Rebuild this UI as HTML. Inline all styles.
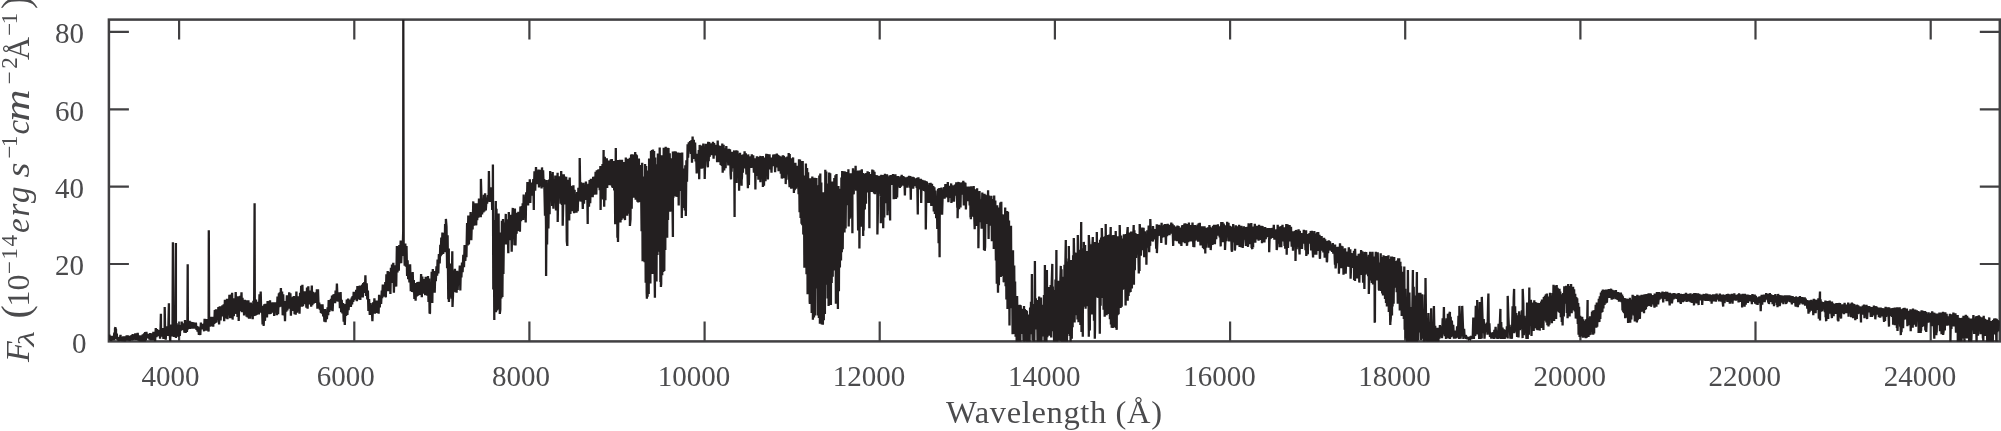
<!DOCTYPE html>
<html><head><meta charset="utf-8"><title>Spectrum</title>
<style>html,body{margin:0;padding:0;background:#fff;}body{width:2001px;height:431px;overflow:hidden;font-family:"Liberation Serif",serif;}svg{display:block;will-change:transform;}</style>
</head><body>
<svg width="2001" height="431" viewBox="0 0 2001 431">
<rect x="0" y="0" width="2001" height="431" fill="#fff"/>
<clipPath id="c"><rect x="108.9" y="19.6" width="1890.8999999999999" height="321.79999999999995"/></clipPath>
<path d="M179.1,341.4v-20.0M179.1,19.6v20.0M354.3,341.4v-20.0M354.3,19.6v20.0M529.4,341.4v-20.0M529.4,19.6v20.0M704.6,341.4v-20.0M704.6,19.6v20.0M879.7,341.4v-20.0M879.7,19.6v20.0M1054.9,341.4v-20.0M1054.9,19.6v20.0M1230.1,341.4v-20.0M1230.1,19.6v20.0M1405.2,341.4v-20.0M1405.2,19.6v20.0M1580.4,341.4v-20.0M1580.4,19.6v20.0M1755.5,341.4v-20.0M1755.5,19.6v20.0M1930.7,341.4v-20.0M1930.7,19.6v20.0M108.9,264.0h20.0M1999.8,264.0h-20.0M108.9,186.6h20.0M1999.8,186.6h-20.0M108.9,109.3h20.0M1999.8,109.3h-20.0M108.9,31.9h20.0M1999.8,31.9h-20.0" stroke="#414042" stroke-width="2.2" fill="none"/>
<rect x="108.9" y="19.6" width="1890.8999999999999" height="321.79999999999995" fill="none" stroke="#414042" stroke-width="2.5"/>
<path clip-path="url(#c)" d="M109.4,334.7L110.1,340.2 110.5,336.8 111.2,341.1 111.9,335.9 112.6,339.7 113.1,337.6 113.8,340.1 114.3,332.5 114.3,336.1 114.9,337.8 115.0,328.5 115.5,327.3 115.5,328.5 116.0,329.5 116.1,339.4 116.8,333.5 116.9,335.6 117.6,339.9 118.0,337.7 118.6,341.3 119.3,337.1 119.8,339.9 120.5,334.9 121.0,341.0 121.8,337.2 122.5,341.2 123.2,336.5 123.7,341.1 124.3,336.5 124.8,342.8 125.4,336.4 126.0,340.0 126.7,335.5 127.4,340.7 127.9,335.5 128.5,339.7 129.1,335.8 129.7,341.2 130.2,336.7 130.7,339.6 131.5,335.3 132.1,340.3 132.7,334.0 133.2,339.9 133.9,335.3 134.6,339.6 135.3,333.4 135.8,339.8 136.5,335.4 137.0,339.3 137.7,332.9 138.2,340.3 138.8,335.5 139.5,341.3 140.1,335.5 140.7,341.8 141.4,335.4 142.1,343.0 142.8,334.3 143.6,342.3 144.1,333.4 144.7,342.7 145.1,332.1 145.9,340.4 146.4,331.9 147.0,338.1 147.7,334.5 148.4,338.4 148.9,333.9 149.5,339.7 150.1,333.1 150.7,340.3 151.2,333.8 151.7,339.8 152.4,333.4 152.9,340.4 153.4,331.7 153.9,337.5 154.5,332.6 155.1,341.4 155.8,328.1 156.5,337.2 157.1,329.1 157.6,336.1 158.3,330.2 158.8,336.2 159.5,330.7 160.1,338.6 160.6,326.5 160.9,313.7 161.1,336.6 161.6,329.2 162.3,334.9 162.9,328.0 163.4,339.0 163.9,329.2 164.6,338.3 164.7,306.9 165.1,329.4 165.7,339.7 166.4,326.2 166.9,333.9 167.4,328.4 167.9,335.8 168.4,325.8 168.9,303.2 169.0,334.9 169.4,327.8 170.2,341.1 170.7,324.5 171.3,336.5 171.8,326.3 172.5,335.9 172.9,242.3 173.2,326.9 173.8,336.9 174.3,326.7 174.8,335.3 175.3,321.8 175.9,243.0 175.9,337.9 176.5,323.2 177.2,332.6 177.8,324.5 178.3,336.8 179.1,325.2 179.8,335.9 180.5,325.2 181.2,330.7 181.7,321.5 182.1,329.8 182.7,324.2 183.3,329.2 183.9,323.4 184.4,332.8 185.0,320.0 185.7,333.0 186.3,322.1 186.9,332.0 187.4,323.4 187.7,264.3 187.9,329.4 188.4,321.8 189.2,327.9 189.6,320.9 190.3,329.0 191.0,321.9 191.7,327.9 192.3,322.0 192.8,328.6 193.5,322.4 194.1,328.1 194.5,323.6 195.2,328.6 195.9,322.6 196.5,329.9 197.0,326.2 197.6,331.6 198.2,326.7 198.9,334.9 199.5,327.8 200.3,335.0 200.9,322.5 201.5,329.5 202.0,324.7 202.7,329.1 203.4,324.0 204.1,331.3 204.6,318.9 205.1,327.8 205.8,322.6 206.5,330.7 206.9,319.1 207.4,328.3 208.0,321.0 208.6,331.6 208.8,230.3 209.1,316.2 209.7,326.8 210.2,317.8 210.8,326.4 211.3,316.8 212.0,325.7 212.7,317.5 213.2,326.7 213.7,316.9 214.3,324.0 214.8,310.0 215.4,323.0 215.9,309.4 216.4,322.5 217.0,312.9 217.7,319.2 218.4,307.1 219.1,324.5 219.8,306.2 220.6,320.5 221.2,306.2 221.9,316.3 222.4,305.2 223.0,316.1 223.7,304.3 224.2,321.3 224.9,299.7 225.5,318.5 226.0,300.1 226.5,312.7 227.0,298.7 227.5,319.2 228.2,300.3 228.9,310.9 229.4,294.9 230.1,318.2 230.9,294.5 231.6,317.9 232.1,292.7 232.6,319.6 233.2,298.2 233.8,316.3 234.4,301.4 235.1,313.8 235.7,292.1 236.4,313.9 237.0,302.5 237.5,316.9 238.2,296.3 238.7,320.9 239.3,299.9 239.8,311.3 240.3,295.9 240.7,311.2 241.5,292.2 242.0,312.1 242.5,297.8 243.0,310.6 243.5,302.9 244.1,315.5 244.8,299.9 245.4,311.3 246.1,302.2 246.6,316.6 247.1,300.3 247.7,317.4 248.4,300.3 249.0,318.6 249.6,304.7 250.1,318.7 250.8,302.5 251.4,314.4 252.1,303.9 252.7,319.2 253.4,300.9 254.1,316.1 254.6,203.2 254.8,300.4 255.4,315.8 256.0,299.5 256.5,314.9 257.0,303.6 257.6,314.2 258.3,301.9 258.9,314.4 259.5,294.4 260.1,310.6 260.7,291.5 261.2,312.5 262.0,305.7 262.6,324.5 263.1,306.6 263.7,325.9 264.3,304.2 265.0,320.9 265.4,303.8 265.9,317.2 266.4,303.9 267.0,317.5 267.6,301.1 268.3,313.1 268.8,302.6 269.5,314.2 270.0,300.4 270.6,313.8 271.3,305.5 272.0,312.3 272.5,302.3 273.0,312.7 273.5,304.0 274.2,316.0 274.8,302.4 275.5,312.3 276.3,302.3 276.8,315.1 277.5,296.5 278.1,314.2 278.9,293.2 279.3,307.2 279.8,292.3 280.3,303.8 280.9,288.0 281.4,306.7 282.1,291.6 282.7,315.1 283.2,294.2 283.8,315.4 284.4,304.3 285.0,321.2 285.6,301.0 286.3,311.6 286.9,295.4 287.4,310.4 288.0,296.9 288.5,308.6 289.2,292.4 289.8,308.6 290.4,293.2 290.9,315.6 291.6,298.0 292.2,309.7 292.9,296.7 293.4,310.9 293.9,296.0 294.6,314.3 295.2,297.9 295.7,314.8 296.4,291.5 297.0,312.8 297.6,296.9 298.2,305.6 298.8,296.3 299.5,313.7 300.1,292.9 300.6,305.7 301.2,285.8 301.9,306.7 302.4,284.7 303.0,306.1 303.6,293.3 304.1,304.2 304.6,291.3 305.1,301.7 305.7,291.7 306.4,307.6 307.0,287.6 307.6,308.7 308.3,286.2 308.8,304.5 309.4,290.5 310.0,303.2 310.6,292.0 311.2,306.7 311.8,285.6 312.3,305.2 313.0,291.7 313.6,303.6 314.1,293.3 314.9,303.0 315.6,292.3 316.3,302.3 316.9,289.4 317.4,308.6 318.0,289.3 318.6,306.7 319.2,302.7 319.9,309.6 320.4,305.2 320.9,312.9 321.4,304.3 321.9,313.7 322.5,304.3 323.2,316.5 323.8,309.0 324.4,321.6 325.0,309.1 325.6,322.3 326.3,311.2 326.9,319.2 327.6,307.4 328.2,315.3 328.7,300.1 329.3,311.9 329.8,301.8 330.3,310.4 330.9,298.9 331.5,306.6 332.0,295.5 332.6,311.3 333.3,294.6 333.8,301.9 334.4,294.0 335.1,303.2 335.6,290.5 336.3,301.4 336.9,283.6 337.5,298.6 337.9,292.3 338.6,301.7 339.4,292.6 339.9,308.2 340.6,292.1 341.2,312.1 341.7,299.9 342.4,313.5 343.1,303.1 343.7,321.7 344.3,314.2 344.8,324.9 345.5,304.0 346.1,315.9 346.8,299.5 347.4,315.0 348.1,298.6 348.6,310.3 349.2,300.1 349.9,305.6 350.5,299.7 350.9,306.9 351.7,297.7 352.1,304.4 352.6,296.1 353.2,302.0 353.7,291.9 354.2,300.2 354.9,292.9 355.6,299.0 356.2,289.7 356.9,301.2 357.4,286.1 358.0,299.5 358.5,286.6 359.2,297.7 359.8,285.5 360.3,300.0 360.9,287.2 361.5,294.6 362.2,284.7 362.8,297.4 363.2,283.0 363.8,292.9 364.3,282.1 364.9,291.7 365.4,275.3 366.0,296.0 366.7,283.2 367.3,299.5 367.9,290.6 368.4,311.0 369.1,299.0 369.8,314.9 370.5,303.0 371.2,311.8 371.7,305.5 372.4,321.1 373.1,302.2 373.8,313.2 374.4,298.4 375.0,313.6 375.6,306.4 376.3,312.6 376.7,300.5 377.4,313.0 377.9,302.3 378.6,313.8 379.1,294.9 379.8,307.4 380.3,296.2 381.1,304.0 381.8,290.5 382.2,298.3 382.8,284.6 383.4,296.8 384.1,284.6 384.8,294.7 385.3,282.0 385.8,297.4 386.4,274.2 387.0,290.2 387.7,271.0 388.3,291.2 388.9,271.8 389.4,287.5 389.9,276.7 390.4,293.9 390.9,267.8 391.4,282.9 392.0,264.6 392.6,281.8 393.3,262.7 393.9,292.7 394.5,267.4 395.1,283.0 395.6,265.3 396.2,286.6 396.9,246.0 397.5,272.5 398.1,257.7 398.8,270.8 399.3,245.0 399.9,263.4 400.7,240.5 401.2,263.2 401.9,245.4 402.6,254.2 403.2,230.7 403.3,19.6 403.7,256.0 404.2,245.4 404.7,265.7 405.3,243.5 405.9,266.8 406.5,245.9 407.1,276.0 407.6,260.2 408.2,279.1 408.9,268.4 409.4,282.4 410.1,264.2 410.8,291.2 411.5,275.2 412.1,292.0 412.7,272.0 413.3,292.2 413.8,280.1 414.4,299.0 415.1,283.0 415.6,300.7 416.2,284.3 416.8,296.5 417.4,282.0 418.1,295.8 418.7,281.7 419.3,293.3 419.9,285.4 420.4,295.0 421.1,274.1 421.8,297.1 422.3,276.6 422.9,292.4 423.5,279.2 424.1,293.8 424.7,279.1 425.2,295.3 425.7,276.9 426.2,294.7 426.8,284.2 427.3,295.7 428.0,276.1 428.5,302.0 429.1,278.6 429.6,313.6 430.0,312.9 430.3,282.3 431.0,302.6 431.7,271.7 432.3,302.9 432.8,269.1 433.4,291.2 434.2,271.0 434.7,292.7 435.3,271.3 435.8,281.1 436.5,266.4 437.1,275.6 437.6,259.6 438.3,273.5 438.9,254.0 439.7,263.5 440.3,244.9 440.7,256.1 441.3,237.6 441.8,254.7 442.4,232.5 443.2,254.0 443.9,233.1 444.6,252.3 445.1,223.9 445.3,229.1 445.9,248.9 445.9,218.9 446.5,226.6 447.1,268.2 447.6,235.3 448.3,299.2 448.8,248.6 448.9,301.9 449.3,295.1 449.9,265.7 450.5,296.9 451.0,263.6 451.6,298.7 452.3,251.3 452.5,306.9 453.0,295.0 453.6,270.3 454.4,291.7 454.9,268.8 455.5,292.1 456.0,278.0 456.6,292.8 457.1,270.8 457.7,290.0 458.3,271.5 459.0,284.1 459.8,265.5 460.3,290.5 460.9,265.9 461.4,277.4 462.0,262.5 462.6,272.2 463.3,254.9 464.0,267.2 464.6,245.0 465.3,260.9 465.8,250.3 466.4,257.3 467.1,222.9 467.7,245.6 468.3,215.6 468.9,244.5 469.5,220.6 470.1,238.9 470.6,212.1 471.3,240.1 472.0,216.2 472.6,229.4 473.3,201.4 473.8,225.8 474.5,210.9 475.0,224.8 475.6,203.3 476.2,225.4 476.8,203.2 477.2,220.3 477.9,206.4 478.4,217.6 479.0,198.5 479.6,215.4 480.3,204.3 480.8,217.2 480.9,178.9 481.6,203.0 482.1,214.4 482.7,200.9 483.4,212.4 483.9,194.8 484.4,211.5 485.1,193.4 485.8,210.4 486.6,197.8 487.1,203.7 487.9,195.2 488.6,201.5 488.9,171.0 489.2,188.6 489.9,202.0 490.5,187.2 491.1,199.7 491.8,192.5 492.2,209.9 492.8,201.7 492.9,164.4 493.3,289.5 493.8,220.1 494.3,319.9 494.3,289.1 494.8,221.2 495.2,274.5 495.6,214.0 495.8,200.9 496.0,312.2 496.5,208.7 497.0,310.5 497.6,230.1 498.1,298.1 498.6,213.6 499.2,309.5 499.6,243.1 499.8,313.9 500.3,309.6 500.8,232.5 501.3,298.4 501.9,220.8 502.4,297.0 503.0,219.0 503.4,274.0 504.0,222.6 504.7,238.0 505.4,225.7 505.8,213.9 505.9,244.6 506.4,219.3 507.1,244.0 507.7,226.5 508.3,253.3 508.8,212.1 509.4,239.9 509.9,223.2 510.4,240.3 511.1,214.8 511.7,251.7 512.3,218.2 512.8,207.9 513.0,239.3 513.7,209.4 514.4,245.2 514.9,208.6 515.5,245.4 516.1,219.1 516.6,233.6 517.1,212.8 517.8,230.9 518.4,211.7 518.9,225.4 519.4,213.0 519.9,231.7 520.4,206.5 521.1,221.3 521.8,206.0 522.3,219.7 522.7,203.2 523.2,219.9 523.7,194.6 524.5,214.8 525.1,198.9 525.7,222.5 526.2,192.2 526.9,203.6 527.4,182.1 528.1,205.5 528.6,190.4 529.3,201.9 529.8,179.3 530.3,202.9 530.9,183.7 531.5,195.8 532.1,182.6 532.7,192.4 533.3,179.0 533.8,209.9 533.9,190.8 534.5,171.4 535.2,190.6 536.0,167.0 536.5,184.2 537.1,171.7 537.8,184.2 538.5,169.5 539.0,187.4 539.7,169.9 540.3,186.3 540.9,170.0 541.6,188.5 542.0,167.4 542.5,186.9 543.1,170.4 543.6,185.2 544.2,179.0 545.0,215.8 545.4,180.2 546.0,225.4 546.1,275.9 546.7,180.0 547.1,244.4 547.7,183.8 548.4,228.5 549.1,179.5 549.6,214.3 550.2,170.9 550.8,198.9 551.5,174.2 552.2,205.9 552.7,172.1 553.4,208.7 554.1,179.1 554.8,200.8 555.3,175.5 556.0,210.4 556.5,175.6 557.0,205.6 557.6,172.8 557.7,221.9 558.2,194.4 558.8,179.9 559.4,196.5 559.9,176.2 560.6,203.8 561.2,171.0 561.9,205.1 562.5,174.2 562.7,225.8 563.2,203.5 563.8,174.2 564.3,204.5 564.8,176.5 565.5,200.6 566.2,176.7 566.8,241.1 567.3,246.0 567.5,179.8 568.1,217.0 568.6,186.8 569.2,220.4 569.7,177.4 570.4,213.9 571.0,185.9 571.5,208.8 572.2,191.5 572.7,211.2 573.4,185.2 574.1,213.3 574.6,189.9 575.2,212.8 575.9,195.3 576.5,212.7 577.1,192.0 577.7,211.2 578.4,187.8 579.0,196.3 579.7,186.0 579.7,158.0 580.4,201.6 581.0,182.4 581.5,196.9 582.1,184.0 582.8,209.0 583.4,182.7 584.0,203.7 584.6,186.7 585.3,199.9 585.9,181.6 586.7,197.4 587.2,184.6 587.7,223.9 587.8,197.4 588.5,183.9 589.0,206.7 589.6,180.1 590.2,203.1 590.9,178.7 591.6,194.7 592.0,180.4 592.7,197.3 593.2,176.8 593.9,194.7 594.5,176.6 595.0,190.5 595.6,171.9 596.3,194.6 596.8,170.2 597.6,187.7 598.1,169.5 598.7,187.2 599.2,169.3 599.7,190.2 600.4,166.0 600.6,209.9 600.8,194.8 601.4,171.3 601.9,194.2 602.5,164.0 603.1,199.4 603.6,150.0 603.6,155.7 604.2,206.8 604.8,156.8 605.4,200.3 605.8,164.1 606.2,184.7 606.8,158.2 607.2,187.9 607.6,161.1 608.2,176.5 608.8,160.6 609.3,185.3 609.9,161.4 610.3,181.2 610.8,159.3 611.4,185.5 611.9,159.0 612.3,187.6 612.8,161.1 613.2,187.9 613.6,161.0 614.2,190.4 614.7,162.3 615.2,224.2 615.8,148.0 616.3,216.8 616.9,167.4 617.4,237.8 617.8,160.1 618.0,241.9 618.4,208.3 618.9,164.6 619.5,220.5 620.0,159.7 620.5,222.5 621.0,166.3 621.4,219.9 622.0,159.8 622.5,218.6 623.0,165.3 623.5,211.2 624.1,162.0 624.6,216.4 625.0,220.0 625.0,169.8 625.4,215.0 625.8,157.4 626.2,214.8 626.8,159.2 627.2,215.8 627.7,158.7 628.3,213.8 628.8,167.7 629.3,208.5 629.9,157.8 629.9,226.0 630.5,219.2 631.1,154.6 631.7,208.7 632.1,154.3 632.6,188.9 633.1,154.4 633.6,197.7 634.2,159.1 634.6,179.3 635.2,152.0 635.7,199.7 636.1,154.2 636.5,190.6 636.9,155.3 637.4,201.7 637.8,165.1 638.3,202.4 638.9,158.5 639.5,202.0 640.1,164.9 640.5,194.4 641.0,174.2 641.6,231.2 642.2,162.7 642.6,261.2 643.0,189.0 643.5,240.0 644.0,176.4 644.6,262.3 645.1,164.0 645.7,282.7 646.1,166.1 646.7,292.8 646.9,298.8 647.2,170.5 647.6,296.7 648.2,176.6 648.7,294.0 649.1,158.6 649.6,243.4 650.0,163.1 650.4,283.4 651.0,151.0 651.4,274.0 651.9,150.1 652.4,274.0 653.0,149.4 653.5,273.6 654.1,151.0 654.6,272.1 654.9,297.8 655.2,157.6 655.6,272.2 656.2,166.3 656.5,281.6 656.9,164.3 657.5,255.0 657.9,153.4 658.4,251.8 659.0,164.3 659.4,249.7 659.7,147.5 660.4,282.1 660.8,171.4 660.9,286.9 661.2,283.7 661.7,155.2 662.2,275.2 662.6,179.4 663.2,272.0 663.7,147.7 664.2,266.1 664.3,270.9 664.7,171.5 665.3,249.9 665.7,146.7 666.1,223.5 666.7,150.4 667.2,237.7 667.6,147.8 668.0,220.0 668.5,148.1 669.0,206.8 669.7,153.2 670.2,211.8 670.6,158.2 671.2,211.1 671.8,163.1 672.3,188.8 672.9,237.0 672.9,151.6 673.4,197.8 673.8,152.4 674.2,186.8 674.7,151.2 675.2,196.2 675.8,151.6 676.4,196.8 677.0,162.3 677.6,197.0 678.1,152.5 678.7,205.5 679.1,152.7 679.7,186.8 680.2,153.8 680.8,191.0 681.3,152.7 681.7,204.8 681.8,218.0 682.2,152.5 682.7,198.7 683.3,169.2 683.8,207.9 684.2,168.6 684.8,210.4 685.3,165.3 685.8,216.0 685.9,210.9 686.4,160.2 687.0,181.8 687.6,144.3 688.1,157.7 688.8,142.4 689.5,151.2 690.1,141.1 690.9,153.9 691.5,140.0 692.0,162.6 692.6,136.6 693.3,158.9 693.8,139.7 694.4,152.2 695.1,142.5 695.6,161.4 696.2,155.7 696.7,173.4 697.4,153.9 698.1,171.0 698.8,150.0 699.2,179.3 699.7,144.9 700.4,166.5 701.1,148.3 701.6,168.7 702.1,145.5 702.7,167.3 703.3,143.5 703.9,168.2 704.4,148.3 704.7,179.0 705.1,162.6 705.8,143.8 706.3,159.8 706.8,145.2 707.5,161.4 707.6,165.5 707.9,167.2 708.2,141.8 708.7,161.1 709.2,142.0 709.7,156.9 710.3,143.8 710.9,155.0 711.6,143.2 712.3,155.1 713.0,141.8 713.6,158.6 714.1,143.0 714.7,155.4 715.2,144.9 715.8,154.3 716.6,145.2 717.1,162.3 717.7,140.6 718.2,162.1 718.9,145.5 719.5,162.0 720.1,146.4 720.6,164.9 721.3,145.9 721.8,166.0 722.3,143.6 722.7,172.7 722.9,159.5 723.6,144.9 724.2,170.5 725.0,148.3 725.6,168.2 726.3,146.0 726.9,161.9 727.6,149.7 728.3,165.5 728.8,148.8 729.3,162.3 730.0,149.3 730.6,173.6 731.0,179.4 731.1,152.0 731.6,171.8 732.1,151.7 732.6,163.3 733.2,152.2 733.7,168.1 734.2,150.4 734.6,217.0 734.7,163.8 735.3,151.5 735.6,180.7 735.7,164.2 736.4,150.2 736.5,174.8 736.6,182.9 736.9,164.4 737.5,150.7 737.5,175.7 738.2,165.1 738.6,176.1 738.8,153.7 739.1,190.7 739.5,168.1 740.0,152.8 740.5,166.7 741.1,155.4 741.6,185.7 741.6,165.8 741.8,179.4 742.0,176.2 742.3,154.7 742.9,172.8 743.5,154.3 744.0,168.4 744.6,151.3 745.2,165.8 745.8,153.3 746.4,174.4 746.9,156.6 747.5,171.0 747.9,188.2 748.2,154.4 748.9,175.8 748.9,184.9 749.4,156.7 750.0,167.3 750.7,156.2 751.3,167.9 751.8,154.4 752.5,167.1 753.2,155.4 753.9,172.7 754.6,158.4 755.2,171.6 755.4,189.4 755.7,158.3 756.4,169.8 756.9,156.2 757.6,175.9 758.1,157.3 758.4,179.7 758.6,169.4 759.2,156.8 759.7,170.6 760.4,155.9 760.4,182.3 760.9,172.1 761.5,157.0 762.2,176.5 762.8,156.0 762.9,186.9 763.3,167.8 763.8,157.4 764.0,185.7 764.3,170.1 764.8,157.7 765.5,181.2 765.6,169.5 766.3,153.8 766.8,166.3 767.0,176.0 767.3,154.0 767.8,172.3 767.9,179.4 768.5,154.2 769.1,169.5 769.5,154.4 770.2,167.3 770.8,157.9 771.5,172.6 772.0,157.6 772.7,166.2 773.3,154.6 773.9,165.2 774.6,154.4 775.1,172.2 775.8,154.8 776.2,165.9 776.8,153.5 777.4,167.5 777.9,154.8 778.6,171.1 779.1,155.5 779.8,165.4 780.3,156.3 780.8,173.8 781.5,157.3 781.8,178.5 782.1,176.8 782.8,155.3 783.4,169.2 783.6,178.2 783.9,155.9 784.6,166.7 785.1,157.3 785.7,170.5 785.7,184.1 786.4,157.2 786.5,179.7 787.0,168.4 787.4,156.6 788.0,174.2 788.7,153.0 789.2,179.7 789.6,187.2 789.7,154.1 790.2,176.2 790.4,184.7 790.7,159.5 791.2,188.7 791.4,174.9 792.1,158.3 792.6,176.0 793.1,157.4 793.2,188.4 793.8,176.8 793.9,192.9 794.3,164.8 794.7,190.3 795.4,162.9 796.0,188.8 796.7,165.9 797.3,185.8 797.9,169.1 798.6,194.2 799.0,159.3 799.6,212.2 800.0,159.4 800.6,217.9 801.0,172.6 801.5,223.8 801.9,161.0 802.3,225.3 802.7,161.0 803.3,234.5 803.9,175.5 804.4,267.7 804.9,193.0 805.3,237.3 805.9,163.4 806.5,274.2 807.1,168.1 807.6,294.2 808.1,172.2 808.6,289.8 809.2,182.1 809.7,301.7 809.9,303.9 810.3,178.2 810.7,302.5 811.2,207.3 811.7,312.9 812.3,176.5 812.9,298.5 812.9,319.8 813.5,179.9 814.0,317.5 814.6,177.7 815.1,315.5 815.6,190.6 816.0,288.5 816.4,178.1 816.8,258.8 817.3,200.4 817.9,315.4 818.5,185.3 818.9,318.0 819.3,175.5 819.9,285.6 819.9,323.8 820.3,173.5 820.8,318.4 821.3,182.5 821.8,324.4 822.3,195.7 822.8,306.7 822.9,324.8 823.3,192.3 823.8,320.2 824.3,198.7 824.9,314.0 825.3,169.7 825.8,270.7 826.3,171.5 826.9,284.8 827.2,183.6 827.6,298.6 828.2,187.5 828.6,305.9 829.2,172.4 829.8,304.1 830.2,173.3 830.8,259.1 830.9,304.9 831.2,209.0 831.7,282.9 832.2,181.5 832.7,276.7 833.2,211.2 833.8,251.6 834.3,177.9 834.9,270.6 835.4,175.2 835.9,303.8 836.5,173.9 837.0,291.3 837.5,192.7 837.9,308.9 837.9,265.6 838.4,186.1 838.9,291.3 839.3,201.0 839.9,267.4 840.4,188.8 841.0,260.6 841.4,177.5 841.8,252.2 842.2,171.0 842.7,249.3 843.3,175.2 843.7,231.6 844.1,171.3 844.5,232.4 845.0,171.4 845.6,228.4 846.1,176.5 846.5,202.3 847.0,172.1 847.6,204.9 848.3,203.7 848.4,169.2 848.7,226.6 849.0,197.4 849.6,174.5 849.7,218.7 850.1,190.1 850.7,173.3 851.4,198.6 851.5,202.1 851.8,217.6 852.0,173.9 852.4,233.3 852.4,190.4 853.0,168.4 853.7,194.4 854.3,170.6 855.0,188.8 855.6,165.8 856.2,190.6 856.9,171.3 857.6,187.5 858.1,230.6 858.2,170.4 858.7,198.9 858.8,213.9 859.2,170.4 859.4,248.6 859.9,194.8 860.5,170.4 861.1,226.7 861.1,191.9 861.8,169.2 862.3,201.0 862.3,191.3 862.8,172.9 863.2,236.0 863.3,188.0 863.6,230.5 864.0,175.4 864.3,209.8 864.5,187.4 864.8,209.3 865.1,173.6 865.7,195.9 866.0,203.8 866.3,173.0 867.0,192.4 867.6,171.4 868.3,189.8 869.0,171.9 869.4,228.3 869.5,191.4 870.0,174.5 870.7,188.0 871.3,174.1 871.8,192.0 872.3,169.6 872.7,191.0 873.4,170.4 874.0,193.4 874.5,171.9 875.0,194.2 875.5,176.8 876.1,187.1 876.9,175.2 877.4,188.2 877.4,234.5 878.0,205.2 878.1,176.9 878.6,193.7 879.1,175.9 879.7,187.9 880.2,175.8 880.5,196.6 880.7,191.3 880.8,223.3 881.3,174.8 881.4,219.9 882.0,188.4 882.6,175.1 883.2,191.7 883.2,228.3 883.9,176.2 884.3,217.5 884.4,186.1 884.9,173.7 885.3,185.5 885.9,177.3 886.0,203.2 886.5,192.0 887.0,174.2 887.5,215.3 887.7,189.4 887.9,199.5 888.2,210.7 888.3,177.2 889.0,186.3 889.5,175.5 890.1,220.4 890.1,186.4 890.7,175.0 891.3,183.6 891.8,175.7 892.5,184.9 893.0,174.1 893.6,184.1 893.7,199.3 894.1,176.9 894.7,190.3 895.4,174.2 896.0,199.0 896.2,187.0 896.8,177.4 897.1,197.6 897.4,183.5 897.8,176.1 898.5,186.6 899.2,177.4 899.9,187.9 900.4,176.4 901.0,186.6 901.7,174.9 902.2,184.0 902.9,176.0 903.5,185.6 904.0,176.5 904.6,185.9 904.9,195.4 905.3,177.4 905.9,187.0 906.5,177.5 907.1,187.8 907.7,176.9 908.3,183.0 909.1,175.9 909.7,187.6 910.3,175.9 910.8,199.8 911.0,183.2 911.6,178.1 912.2,185.6 912.7,176.9 913.2,188.8 913.8,177.3 914.2,184.8 914.8,179.0 915.5,186.2 916.2,178.3 916.7,188.0 917.2,177.7 917.8,214.5 917.9,185.1 918.4,177.3 919.0,189.4 919.6,179.0 920.3,187.2 920.8,178.7 921.2,203.0 921.5,186.6 922.2,179.9 922.7,190.1 923.4,180.2 924.0,190.9 924.7,180.5 925.1,191.4 925.6,181.0 925.8,229.5 926.3,192.4 926.9,181.5 927.6,195.4 928.2,202.9 928.2,184.9 928.9,201.2 929.5,183.0 930.0,202.9 930.6,182.7 931.3,206.0 932.0,183.7 932.7,205.8 933.3,185.9 933.8,211.6 934.4,187.2 934.9,214.0 935.5,190.5 936.2,218.2 936.9,197.9 937.3,228.9 938.1,188.8 938.6,243.3 938.7,230.5 939.3,188.0 939.6,257.3 939.7,217.5 940.3,191.8 941.0,213.0 941.5,187.5 942.1,214.8 942.8,189.5 943.4,197.2 944.1,187.2 944.6,198.8 945.4,184.0 946.1,197.4 946.8,186.2 947.3,195.8 947.8,182.0 948.4,202.2 949.2,185.9 949.7,197.9 950.2,186.4 950.7,197.8 951.2,183.4 951.4,202.9 951.7,201.0 952.4,185.2 953.0,198.4 953.6,185.5 953.9,201.7 954.3,194.0 955.0,184.5 955.7,195.6 956.3,182.2 956.9,195.8 957.3,207.6 957.5,184.2 957.6,218.2 958.2,193.4 958.6,181.9 959.1,209.3 959.2,191.7 959.8,183.6 960.2,191.0 960.5,207.5 960.9,182.4 961.4,191.9 961.9,183.9 962.6,194.6 963.3,180.7 963.8,205.6 963.9,197.4 964.4,182.2 964.9,198.9 965.4,182.8 965.9,209.4 966.1,201.1 966.6,186.6 967.4,197.9 967.9,187.0 968.4,201.2 969.0,186.6 969.7,205.5 970.3,190.8 970.5,217.6 970.9,207.3 970.9,219.2 971.3,186.2 972.0,209.5 972.5,189.1 973.1,216.6 973.7,185.9 974.3,218.1 974.7,229.3 974.8,195.7 975.4,215.0 975.9,189.3 976.5,226.1 977.1,188.3 977.6,223.6 978.3,197.4 978.4,248.3 978.8,214.9 979.5,191.1 980.2,222.1 980.9,199.4 981.6,228.8 982.3,192.6 983.0,227.9 983.5,200.5 983.9,229.7 984.0,249.9 984.5,193.7 984.7,250.8 985.1,246.9 985.6,194.8 986.1,223.9 986.8,195.7 987.4,223.8 988.1,190.3 988.6,239.1 989.0,195.4 989.6,223.7 990.3,198.6 990.9,225.8 991.4,195.7 991.9,241.2 992.3,204.9 992.9,233.9 993.4,199.0 993.8,249.0 994.2,195.5 994.7,246.9 995.3,200.4 995.9,260.5 996.3,212.7 996.8,283.8 997.2,205.2 997.8,274.7 998.0,292.8 998.4,225.0 998.9,285.2 999.5,207.5 999.8,276.4 1000.3,202.5 1000.8,276.9 1001.3,201.8 1001.8,268.1 1002.3,214.2 1002.7,276.0 1003.2,214.5 1003.7,281.5 1004.0,281.9 1004.2,225.0 1004.7,269.9 1005.2,207.6 1005.6,286.2 1006.0,234.4 1006.4,299.4 1007.0,210.9 1007.5,308.9 1008.0,211.8 1008.5,301.2 1009.0,220.4 1009.5,325.5 1010.0,236.4 1010.4,308.3 1011.0,225.8 1011.4,296.5 1012.0,254.3 1012.6,334.2 1013.0,250.2 1013.6,334.0 1014.2,265.5 1014.7,323.5 1015.1,281.6 1015.6,336.8 1016.2,297.1 1016.7,344.9 1017.1,296.1 1017.7,333.4 1018.1,305.1 1018.6,344.7 1019.0,308.9 1019.4,342.3 1019.8,304.7 1020.3,346.4 1020.7,305.3 1021.3,333.9 1021.8,308.7 1022.4,331.9 1023.0,314.2 1023.5,340.9 1024.0,306.1 1024.4,344.6 1024.8,309.0 1025.4,339.2 1025.9,310.1 1026.3,341.1 1026.8,310.7 1027.3,346.3 1027.8,314.5 1028.4,343.2 1028.9,318.3 1029.5,346.3 1030.1,307.5 1030.5,333.7 1031.0,301.8 1031.6,334.3 1031.9,273.9 1032.0,306.7 1032.6,340.1 1033.0,304.0 1033.5,345.5 1033.9,305.2 1034.3,346.4 1034.7,299.4 1034.9,260.9 1035.3,329.6 1035.8,298.3 1036.4,327.8 1037.0,301.0 1037.6,344.2 1038.1,299.9 1038.5,344.8 1039.1,296.5 1039.6,338.0 1040.1,298.3 1040.5,343.3 1041.0,297.4 1041.4,346.0 1042.0,304.8 1042.5,336.4 1043.0,308.2 1043.5,333.2 1044.0,295.1 1044.6,346.1 1044.9,264.9 1045.0,295.7 1045.5,342.3 1045.9,300.9 1046.4,346.4 1046.8,298.1 1046.9,269.9 1047.3,337.3 1047.8,299.2 1048.2,332.1 1048.8,287.1 1049.2,335.8 1049.7,297.8 1050.1,328.6 1050.7,285.1 1051.2,337.6 1051.7,283.2 1052.3,263.9 1052.3,328.3 1052.8,286.4 1053.3,331.2 1053.7,290.0 1054.1,346.3 1054.5,294.8 1054.9,338.7 1055.5,279.6 1055.9,346.4 1056.4,249.9 1056.5,276.6 1057.1,345.9 1057.7,283.8 1058.2,339.7 1058.6,280.7 1059.0,340.8 1059.4,285.6 1059.8,336.1 1060.4,279.3 1060.8,265.9 1061.0,341.1 1061.5,269.3 1062.0,342.7 1062.5,277.6 1063.0,346.4 1063.6,276.7 1064.0,329.6 1064.5,264.7 1065.0,345.4 1065.4,263.0 1065.8,240.0 1065.9,345.1 1066.4,261.5 1066.9,342.8 1067.4,283.7 1067.8,331.3 1068.4,258.4 1068.8,334.1 1068.8,245.9 1069.3,272.9 1069.7,336.0 1070.2,272.2 1070.6,346.4 1071.0,260.0 1071.5,312.0 1071.8,338.8 1072.1,268.5 1072.6,327.3 1073.1,255.3 1073.5,299.0 1073.8,238.0 1074.1,253.3 1074.6,322.5 1075.1,252.6 1075.7,311.7 1076.2,252.8 1076.7,315.2 1077.1,257.3 1077.5,319.4 1077.8,235.0 1078.0,247.8 1078.5,322.2 1078.9,249.7 1079.3,312.2 1080.0,262.9 1080.4,324.9 1080.9,246.6 1081.2,222.0 1081.5,332.1 1081.9,248.2 1082.4,303.6 1082.8,336.8 1082.9,252.8 1083.6,304.5 1083.8,241.9 1084.0,248.7 1084.6,306.8 1085.1,244.9 1085.6,308.7 1086.0,251.4 1086.7,306.3 1087.1,251.0 1087.5,305.9 1088.2,257.6 1088.8,331.0 1088.8,336.8 1088.8,235.0 1089.4,245.4 1089.8,330.4 1090.4,244.2 1091.0,311.3 1091.4,248.8 1091.9,314.5 1092.3,247.2 1092.8,237.0 1092.9,305.4 1093.5,246.8 1094.0,320.8 1094.5,242.1 1094.8,338.8 1095.0,328.6 1095.6,249.1 1096.2,297.5 1096.8,239.8 1096.8,232.0 1097.4,274.1 1097.9,243.1 1098.4,298.1 1099.0,242.8 1099.5,297.2 1099.8,333.8 1100.1,239.8 1100.6,305.8 1101.1,237.4 1101.6,283.0 1101.8,228.0 1102.1,237.1 1102.5,297.9 1103.0,236.7 1103.6,309.8 1104.2,243.6 1104.7,316.8 1105.3,236.0 1105.6,291.0 1105.7,224.0 1106.0,254.9 1106.6,315.3 1107.2,235.0 1107.8,314.0 1108.4,243.8 1108.9,298.3 1109.4,234.4 1109.9,319.2 1110.3,241.4 1110.7,227.0 1110.9,324.6 1111.5,235.5 1111.7,327.8 1111.9,293.5 1112.4,236.0 1112.8,328.1 1113.3,235.0 1113.7,320.5 1114.3,234.9 1114.7,326.9 1115.1,237.7 1115.7,328.1 1115.7,231.0 1116.1,247.7 1116.5,326.9 1116.7,329.8 1117.1,247.6 1117.6,315.3 1118.1,236.3 1118.6,314.2 1119.2,253.2 1119.7,306.6 1119.7,225.0 1120.1,241.1 1120.6,308.1 1121.1,235.4 1121.7,306.8 1122.1,238.6 1122.5,290.1 1122.9,258.0 1123.4,289.3 1123.9,234.3 1124.4,288.3 1125.0,248.3 1125.6,305.4 1126.2,234.1 1126.7,283.8 1127.2,233.2 1127.7,227.0 1127.7,300.7 1128.2,246.8 1128.6,296.0 1129.2,232.6 1129.6,292.6 1130.1,233.0 1130.6,292.0 1131.2,231.6 1131.9,288.6 1132.4,231.8 1132.9,268.9 1133.3,235.1 1133.7,225.0 1133.9,284.7 1134.4,230.2 1134.8,270.3 1135.4,233.1 1136.0,258.0 1136.6,237.4 1137.2,252.4 1137.7,234.1 1138.4,252.9 1138.8,273.6 1138.9,236.1 1139.5,271.1 1139.7,224.0 1140.2,230.7 1140.9,255.7 1141.4,235.4 1141.9,250.3 1142.4,227.6 1143.0,246.7 1143.6,227.7 1144.2,257.2 1144.8,231.4 1145.6,257.0 1146.2,235.7 1146.4,264.8 1146.6,250.6 1147.3,230.4 1147.9,247.6 1148.7,225.6 1149.2,252.2 1149.7,232.3 1150.2,245.9 1150.3,219.0 1150.7,230.9 1151.4,240.8 1151.9,229.2 1152.4,236.2 1152.9,241.6 1153.0,226.1 1153.8,236.8 1154.4,229.0 1155.1,239.5 1155.6,229.1 1156.2,248.8 1156.8,224.2 1156.9,253.1 1157.5,237.8 1158.1,225.2 1158.6,235.9 1159.1,224.9 1159.9,232.6 1160.4,226.2 1160.9,232.5 1161.3,242.9 1161.6,222.8 1162.2,237.7 1163.0,225.9 1163.5,234.9 1164.2,224.7 1164.6,237.2 1165.3,224.0 1165.9,244.6 1166.4,225.9 1167.1,236.2 1167.7,223.8 1168.2,234.6 1168.9,225.8 1169.5,235.2 1170.0,224.7 1170.6,233.4 1171.3,222.5 1171.9,233.8 1172.5,223.9 1173.2,245.9 1173.3,238.7 1173.4,240.7 1173.9,225.2 1174.5,240.6 1175.2,226.6 1175.7,239.2 1176.2,227.4 1176.9,241.2 1177.5,225.6 1178.1,237.9 1178.6,226.0 1179.1,243.5 1179.7,227.5 1180.2,238.7 1180.5,244.1 1180.9,228.1 1181.4,246.0 1182.1,225.3 1182.6,240.2 1183.1,225.0 1183.8,242.2 1184.4,223.6 1184.9,243.2 1185.4,223.2 1186.0,236.3 1186.6,223.9 1186.9,245.1 1187.0,245.7 1187.1,245.0 1187.7,227.2 1188.3,242.3 1188.9,222.5 1189.5,241.3 1190.1,225.1 1190.8,241.5 1191.4,226.4 1191.9,239.3 1192.5,222.6 1193.1,240.6 1193.3,244.2 1193.4,247.0 1193.7,226.8 1194.3,247.3 1194.8,225.1 1195.5,240.7 1196.2,225.5 1196.9,239.8 1197.6,224.6 1198.1,241.7 1198.7,223.3 1199.3,237.8 1199.8,222.8 1200.5,245.5 1201.1,226.9 1201.6,237.8 1202.2,226.2 1202.7,241.6 1203.0,247.9 1203.4,227.4 1204.0,249.2 1204.5,226.3 1205.2,244.6 1205.3,253.5 1205.3,249.2 1205.8,227.7 1206.1,247.6 1206.3,241.5 1207.0,227.7 1207.5,243.0 1208.1,227.4 1208.7,247.6 1209.4,225.1 1209.8,243.8 1210.5,226.8 1210.7,250.1 1211.2,241.3 1211.8,228.1 1212.5,244.9 1213.2,225.8 1213.7,239.4 1214.2,224.8 1214.8,242.4 1214.9,244.3 1215.5,224.7 1216.2,239.2 1216.7,225.4 1217.4,235.5 1217.9,224.4 1218.5,235.7 1219.0,226.3 1219.7,237.5 1220.2,226.4 1220.7,246.4 1220.8,236.0 1221.3,222.0 1221.9,241.8 1222.5,222.1 1223.0,242.1 1223.7,223.6 1224.2,235.2 1224.9,225.3 1225.0,250.0 1225.4,241.3 1226.1,226.5 1226.6,241.1 1227.2,221.9 1227.9,236.6 1228.5,222.7 1229.2,241.4 1229.8,225.7 1230.4,239.9 1231.1,226.5 1231.6,249.7 1232.0,251.7 1232.2,227.2 1232.7,239.5 1233.2,224.0 1233.9,242.4 1234.5,228.5 1234.8,250.5 1235.1,248.3 1235.2,239.1 1235.8,225.3 1236.2,243.2 1236.8,227.7 1237.4,245.2 1238.1,226.3 1238.6,239.8 1239.1,224.9 1239.6,247.0 1239.7,243.8 1240.2,225.9 1240.8,240.8 1241.2,247.2 1241.4,225.8 1241.9,238.4 1242.6,228.0 1242.7,247.9 1243.3,238.6 1243.9,226.2 1244.6,239.6 1245.2,227.4 1245.7,240.3 1245.9,245.9 1246.2,226.9 1246.8,242.1 1247.5,226.7 1248.0,246.9 1248.6,223.4 1249.4,244.2 1250.0,223.9 1250.7,242.0 1251.3,223.1 1251.6,248.0 1251.8,244.9 1251.8,247.3 1252.4,249.0 1252.5,227.3 1252.6,244.7 1253.1,245.1 1253.1,241.8 1253.7,226.5 1254.3,239.4 1254.8,223.9 1255.3,242.6 1255.9,225.8 1256.4,237.4 1257.1,226.0 1257.5,239.4 1258.0,225.9 1258.6,240.6 1259.1,224.7 1259.6,236.7 1260.2,227.6 1261.0,239.8 1261.5,225.7 1262.0,243.3 1262.5,226.1 1263.2,239.9 1263.7,227.4 1264.4,242.4 1265.2,227.1 1265.7,239.1 1266.4,228.6 1267.0,237.2 1267.7,228.0 1268.3,237.3 1269.0,228.0 1269.2,252.3 1269.5,241.2 1270.2,228.4 1270.8,238.8 1271.5,228.0 1272.1,237.7 1272.7,227.9 1273.3,238.0 1273.8,224.7 1274.4,239.6 1275.1,229.5 1275.8,239.7 1276.4,229.4 1276.7,250.0 1277.0,247.8 1277.7,224.9 1278.4,243.8 1279.1,226.6 1279.7,247.2 1280.4,227.4 1280.9,238.8 1281.3,247.2 1281.4,225.9 1282.0,239.1 1282.5,224.8 1283.2,241.5 1283.9,227.3 1284.6,245.9 1285.2,227.5 1285.2,248.8 1285.8,238.9 1286.3,224.1 1286.7,254.8 1286.9,241.5 1287.5,224.2 1288.0,247.9 1288.6,229.2 1289.1,239.5 1289.6,225.0 1290.3,241.5 1291.0,226.8 1291.7,246.8 1292.4,231.3 1293.0,250.6 1293.6,231.5 1294.3,240.8 1294.9,230.9 1295.4,242.5 1295.5,261.1 1296.1,229.9 1296.6,245.2 1296.7,249.3 1297.2,230.7 1297.9,247.1 1298.6,229.4 1299.1,246.2 1299.6,254.4 1299.8,230.7 1300.6,246.3 1301.3,233.0 1302.0,249.0 1302.6,234.3 1303.2,243.7 1303.8,229.9 1304.3,242.3 1304.9,231.7 1305.5,250.1 1306.1,230.2 1306.3,256.0 1306.6,246.2 1307.3,234.2 1307.8,254.4 1308.4,234.1 1309.0,243.8 1309.5,233.1 1310.1,243.0 1310.7,231.0 1311.2,250.4 1311.8,230.7 1312.6,249.3 1313.1,257.4 1313.3,233.2 1313.7,243.3 1314.3,231.1 1314.7,251.9 1315.0,254.7 1315.0,252.0 1315.7,233.6 1316.3,246.0 1316.3,254.7 1317.0,232.3 1317.6,250.9 1318.2,232.0 1318.9,248.0 1319.5,234.8 1319.8,257.1 1320.0,258.8 1320.5,238.1 1321.0,248.9 1321.6,236.1 1322.3,250.6 1322.8,240.3 1323.4,252.4 1324.1,237.9 1324.7,257.6 1325.2,239.2 1325.9,254.3 1326.4,241.1 1326.8,262.3 1327.1,261.0 1327.6,242.4 1328.1,253.3 1328.7,240.3 1329.5,249.9 1330.0,241.3 1330.7,250.7 1331.4,244.7 1332.1,251.8 1332.8,243.1 1333.3,253.7 1334.0,245.3 1334.6,254.9 1335.0,264.7 1335.1,244.4 1335.6,268.4 1336.0,264.2 1336.3,246.9 1336.9,259.8 1337.7,246.7 1338.3,263.2 1338.8,247.6 1338.9,273.7 1339.4,260.0 1340.0,243.4 1340.7,256.1 1341.3,268.2 1341.4,245.8 1341.9,258.1 1342.5,246.3 1343.2,257.6 1343.5,274.7 1343.8,248.9 1344.6,270.0 1345.1,248.4 1345.7,273.8 1345.8,269.6 1346.5,251.6 1347.3,266.6 1347.8,251.7 1348.2,265.5 1348.8,247.3 1349.6,267.0 1350.3,249.2 1350.6,278.8 1350.9,270.8 1351.5,253.1 1352.2,266.3 1352.8,253.8 1353.3,268.0 1354.0,250.8 1354.1,280.1 1354.5,267.3 1355.0,281.0 1355.1,248.8 1355.8,268.8 1356.4,256.1 1357.0,278.4 1357.6,255.9 1358.1,276.5 1358.7,253.8 1359.3,282.6 1360.0,253.6 1360.5,273.8 1361.1,250.0 1361.7,274.9 1362.4,251.4 1363.1,282.6 1363.8,255.3 1364.4,289.1 1364.8,251.9 1365.5,274.8 1366.2,252.0 1366.8,273.6 1367.5,256.7 1368.2,276.1 1368.8,254.7 1368.8,294.0 1369.4,273.2 1370.1,251.8 1370.8,280.4 1371.3,254.7 1371.9,282.9 1372.5,251.7 1373.0,284.5 1373.5,257.2 1374.1,277.5 1374.5,256.6 1374.7,322.1 1374.9,322.5 1375.1,273.6 1375.8,251.7 1376.3,274.8 1376.8,252.7 1377.3,280.4 1377.7,252.2 1378.2,272.7 1378.6,262.5 1378.9,289.6 1379.2,290.4 1379.2,279.8 1379.6,263.3 1380.2,287.6 1380.7,253.2 1381.2,291.1 1381.7,257.0 1382.2,293.6 1382.6,257.0 1383.0,295.5 1383.5,255.2 1384.0,289.2 1384.6,260.8 1385.0,299.1 1385.5,255.9 1386.0,303.1 1386.4,256.1 1386.9,306.5 1387.4,256.2 1388.0,305.5 1388.5,255.2 1388.8,312.1 1389.3,259.1 1389.7,296.5 1390.3,325.1 1390.3,264.4 1390.4,322.1 1390.8,317.7 1391.2,256.6 1391.7,299.1 1392.0,315.5 1392.1,256.4 1392.6,306.6 1393.0,262.6 1393.6,303.8 1394.2,257.1 1394.7,287.8 1395.3,265.9 1395.9,286.0 1396.3,260.9 1396.7,292.2 1397.2,260.4 1397.8,303.7 1398.2,258.3 1398.7,301.0 1399.2,258.2 1399.8,310.5 1400.4,261.7 1400.7,294.0 1401.1,266.2 1401.7,316.0 1402.2,276.1 1402.7,296.5 1403.3,271.8 1403.8,318.9 1404.3,266.4 1404.7,329.7 1405.3,288.8 1405.8,338.4 1406.4,299.0 1407.2,346.3 1407.8,287.4 1407.9,270.0 1408.6,346.4 1409.4,292.4 1410.2,346.2 1410.9,307.1 1411.5,343.9 1412.2,320.6 1412.9,270.0 1413.0,346.3 1413.7,286.8 1414.3,343.7 1415.1,295.4 1415.6,343.7 1416.3,318.2 1416.9,272.0 1417.0,346.4 1417.5,292.8 1418.3,340.6 1419.1,292.8 1419.8,332.6 1420.4,292.7 1421.2,340.3 1421.9,294.2 1422.6,338.7 1423.4,320.9 1424.1,344.2 1424.6,294.4 1425.3,339.6 1425.5,278.0 1426.0,318.8 1426.5,341.7 1427.1,321.6 1427.9,344.1 1428.4,312.9 1429.1,346.1 1429.7,322.7 1430.5,343.5 1431.2,308.2 1432.0,346.3 1432.5,323.6 1433.1,343.0 1433.8,324.3 1433.9,305.9 1434.6,341.4 1435.2,325.7 1435.8,346.4 1436.5,328.3 1437.0,343.6 1437.5,327.8 1438.3,343.5 1438.8,327.9 1439.4,338.8 1439.9,325.0 1440.6,337.2 1441.3,326.3 1442.0,338.2 1442.7,318.4 1443.3,334.5 1443.9,306.9 1444.1,317.6 1444.8,336.3 1445.5,321.9 1446.0,338.9 1446.6,318.2 1447.4,337.3 1447.9,313.7 1448.4,338.5 1449.2,314.6 1449.9,311.9 1450.0,338.9 1450.7,316.7 1451.3,337.3 1451.9,320.6 1452.5,336.1 1453.2,324.8 1454.0,338.7 1454.6,330.7 1455.3,338.6 1455.9,330.9 1456.6,338.1 1457.1,326.4 1457.9,336.9 1458.5,315.7 1459.2,339.0 1459.4,305.9 1459.8,313.6 1460.6,338.8 1461.4,320.0 1462.1,336.5 1462.2,305.9 1462.9,324.6 1463.4,339.0 1464.1,328.7 1464.6,337.1 1465.3,335.1 1466.1,338.8 1466.7,337.6 1467.3,339.0 1467.9,337.2 1468.7,339.0 1469.4,338.0 1470.2,339.0 1470.7,337.8 1471.4,339.0 1472.2,336.1 1472.7,338.6 1473.3,317.5 1473.9,338.9 1474.5,322.8 1475.2,336.1 1475.8,305.8 1476.6,334.5 1477.2,310.0 1477.2,299.9 1477.7,331.4 1478.5,325.3 1479.2,339.0 1479.8,301.9 1480.6,339.0 1481.1,318.2 1481.7,338.6 1481.8,296.9 1482.5,317.8 1483.1,333.2 1483.7,319.1 1484.5,338.8 1485.4,323.9 1486.0,332.1 1486.8,322.6 1487.5,334.7 1488.1,302.3 1488.4,293.5 1488.8,330.0 1489.4,323.2 1490.0,337.0 1490.7,333.9 1491.3,338.7 1491.8,332.5 1492.6,337.7 1493.2,332.5 1493.8,339.0 1494.4,329.8 1495.0,335.3 1495.6,326.9 1496.4,338.7 1497.1,330.6 1497.8,338.9 1498.6,323.8 1499.3,338.2 1499.8,324.8 1500.4,308.9 1500.5,339.0 1501.2,322.1 1501.8,338.9 1502.5,327.7 1503.3,338.9 1504.0,329.3 1504.7,339.0 1505.5,330.2 1506.3,337.0 1506.9,326.4 1507.7,338.5 1507.7,295.9 1508.4,317.0 1509.1,331.3 1509.6,324.9 1510.4,338.7 1511.1,327.2 1511.9,338.8 1512.6,306.3 1513.2,330.2 1513.7,298.1 1514.1,288.9 1514.3,333.2 1515.1,306.2 1515.7,331.6 1516.3,313.0 1517.1,337.0 1517.7,315.2 1518.5,337.4 1519.2,311.3 1519.9,330.2 1520.6,315.1 1521.4,328.7 1521.9,310.3 1522.6,338.1 1522.7,288.9 1523.3,303.1 1523.8,335.2 1524.4,315.7 1525.0,328.4 1525.7,323.7 1526.5,339.0 1527.1,302.6 1527.7,339.0 1528.3,315.4 1528.9,334.8 1529.3,287.5 1529.5,310.3 1530.3,325.9 1530.9,299.7 1531.5,336.0 1532.1,309.7 1532.9,320.5 1533.3,302.6 1533.7,331.1 1534.3,300.3 1534.9,328.2 1535.5,302.0 1535.9,324.8 1536.4,304.4 1536.9,329.8 1537.3,302.8 1537.7,330.2 1538.2,307.5 1538.6,328.9 1539.2,302.9 1539.7,330.6 1540.2,311.4 1540.7,328.1 1541.1,301.5 1541.5,327.9 1542.0,299.4 1542.5,319.7 1542.9,304.4 1543.4,330.1 1543.8,297.1 1544.3,320.6 1544.9,295.8 1545.4,315.1 1545.9,294.4 1546.4,322.6 1546.9,293.6 1547.4,325.2 1547.9,296.6 1548.5,326.5 1549.0,298.7 1549.4,324.7 1550.0,292.8 1550.6,313.8 1551.2,295.6 1551.9,323.2 1552.5,293.0 1553.0,313.7 1553.5,284.7 1554.1,321.0 1554.6,291.2 1555.2,307.4 1555.7,285.5 1556.1,318.9 1556.7,284.9 1557.1,311.0 1557.6,287.7 1558.0,311.5 1558.5,291.9 1559.0,312.2 1559.5,288.7 1559.9,313.0 1560.3,291.6 1560.8,317.2 1561.3,294.2 1561.8,322.0 1562.2,299.1 1562.6,325.6 1563.2,292.9 1563.8,316.6 1564.3,286.2 1564.7,303.8 1565.2,288.3 1565.6,302.3 1566.2,285.7 1566.8,312.9 1567.2,287.6 1567.6,318.2 1568.2,284.1 1568.6,313.6 1569.2,285.9 1569.6,316.5 1570.1,289.0 1570.6,305.2 1571.1,284.0 1571.7,313.2 1572.2,287.7 1572.7,310.3 1573.1,286.7 1573.5,309.2 1574.1,289.3 1574.7,311.4 1575.2,293.7 1575.8,318.4 1576.3,297.1 1576.8,318.6 1577.2,298.2 1577.8,323.9 1578.2,303.0 1578.6,334.7 1579.1,306.8 1579.6,337.0 1580.2,315.7 1580.7,330.8 1581.3,321.4 1581.7,336.4 1582.2,316.9 1582.8,337.7 1583.3,319.2 1583.7,337.5 1584.3,320.8 1584.8,331.8 1585.2,325.2 1585.7,338.1 1586.2,319.2 1586.7,337.6 1587.2,322.8 1587.6,300.1 1587.6,331.1 1588.1,317.7 1588.5,336.9 1588.9,317.9 1589.5,335.3 1590.1,316.3 1590.7,334.7 1591.1,319.9 1591.6,330.4 1592.0,311.8 1592.4,331.8 1592.8,310.4 1593.2,334.8 1593.7,310.7 1594.1,333.4 1594.5,310.1 1595.1,323.1 1595.7,304.8 1596.3,327.8 1596.8,302.4 1597.2,326.6 1597.8,302.7 1598.4,314.8 1598.8,298.8 1599.4,322.1 1599.8,296.2 1600.3,319.0 1600.9,292.6 1601.4,312.6 1602.0,290.9 1602.4,311.9 1602.9,289.6 1603.4,308.4 1603.9,289.9 1604.5,304.9 1605.2,291.2 1605.7,303.4 1606.2,289.5 1606.9,302.7 1607.6,289.7 1608.2,296.6 1608.7,289.2 1609.3,297.9 1609.9,290.3 1610.4,295.9 1611.1,288.7 1611.7,299.7 1612.3,289.7 1612.8,299.2 1613.5,290.4 1614.2,296.4 1614.8,291.2 1615.4,299.2 1615.9,290.0 1616.4,298.1 1617.0,292.1 1617.6,300.0 1618.3,292.0 1619.0,301.7 1619.6,293.1 1620.2,301.3 1620.9,292.5 1621.5,302.1 1622.1,294.6 1622.5,310.4 1622.9,296.2 1623.3,312.2 1623.9,300.8 1624.2,313.1 1624.6,298.1 1625.2,318.2 1625.7,300.5 1626.2,317.7 1626.6,298.5 1627.2,317.6 1627.7,299.1 1628.1,322.9 1628.7,299.9 1629.3,322.6 1629.8,297.8 1630.2,322.8 1630.7,299.4 1631.3,319.6 1631.7,301.0 1632.2,310.1 1632.6,294.7 1633.0,314.2 1633.3,295.6 1633.8,315.5 1634.2,296.3 1634.8,321.4 1635.2,296.0 1635.8,321.0 1636.4,296.2 1636.9,322.4 1637.3,294.7 1637.7,320.1 1638.3,295.5 1638.7,313.0 1639.3,296.8 1639.9,318.9 1640.5,295.6 1641.0,311.9 1641.6,294.8 1642.2,309.0 1642.7,294.7 1643.1,311.6 1643.6,295.3 1644.0,313.2 1644.6,294.4 1645.0,310.0 1645.4,295.0 1645.9,309.3 1646.5,294.1 1647.0,306.8 1647.6,296.0 1648.2,304.3 1648.6,293.4 1649.2,305.9 1649.8,293.2 1650.3,303.3 1650.8,293.4 1650.9,306.6 1651.3,305.8 1651.9,295.2 1652.6,304.3 1653.3,295.0 1653.9,301.1 1654.5,307.7 1654.7,293.5 1655.3,302.8 1655.9,294.7 1656.4,306.7 1656.4,303.2 1656.9,292.1 1657.3,303.6 1657.9,292.6 1658.1,304.3 1658.5,300.3 1659.0,292.1 1659.5,299.6 1660.1,293.6 1660.8,298.7 1661.5,292.6 1662.0,298.5 1662.5,291.5 1663.2,302.4 1663.7,292.8 1664.4,298.9 1664.9,292.1 1665.4,298.7 1666.1,291.7 1666.6,301.3 1667.2,291.8 1667.8,301.2 1668.5,292.9 1669.2,299.1 1669.7,305.5 1669.9,292.8 1670.4,298.6 1670.9,293.7 1671.4,299.5 1671.8,294.2 1671.9,303.4 1672.3,300.3 1673.0,293.4 1673.5,299.5 1674.2,293.0 1674.7,298.6 1675.1,293.7 1675.9,298.4 1676.4,294.3 1677.0,298.8 1677.7,293.7 1678.2,302.2 1678.7,293.0 1679.3,298.8 1679.9,294.0 1680.2,302.4 1680.4,299.6 1680.8,304.0 1680.9,293.8 1681.5,299.5 1682.1,294.7 1682.8,302.1 1683.3,294.1 1684.0,301.5 1684.6,293.9 1685.3,300.0 1686.0,292.8 1686.6,301.9 1687.1,294.4 1687.7,301.4 1688.3,293.9 1689.0,301.2 1689.5,294.2 1689.9,301.6 1690.5,293.4 1690.9,302.5 1691.2,299.0 1691.7,294.7 1692.3,302.9 1693.1,293.8 1693.7,299.4 1694.0,305.4 1694.3,293.1 1695.0,298.4 1695.5,293.2 1696.1,298.6 1696.5,303.4 1696.7,294.8 1697.4,299.4 1697.9,293.4 1698.6,305.1 1698.7,299.1 1699.3,293.8 1699.8,300.4 1700.4,294.7 1701.0,299.0 1701.6,294.6 1702.1,300.0 1702.2,304.9 1702.8,294.9 1703.3,298.4 1703.8,294.0 1704.3,300.3 1704.8,294.2 1705.5,300.8 1706.1,293.5 1706.7,299.6 1707.2,293.9 1707.9,300.8 1708.5,294.5 1709.3,299.0 1709.7,294.4 1710.4,301.4 1710.9,295.3 1711.6,299.5 1711.6,303.8 1712.1,294.9 1712.5,301.1 1713.1,294.3 1713.6,301.3 1714.1,295.3 1714.6,301.1 1715.3,294.4 1716.0,301.6 1716.6,293.7 1717.2,299.7 1717.7,295.3 1718.2,298.9 1718.7,294.9 1719.2,301.5 1719.8,293.6 1720.2,299.4 1720.8,294.6 1721.5,301.6 1722.1,295.2 1722.6,301.5 1723.2,306.5 1723.2,294.5 1723.9,300.6 1723.9,302.8 1724.3,295.2 1724.5,303.2 1724.8,300.3 1725.6,295.1 1726.3,300.3 1726.7,294.0 1727.4,301.9 1728.1,293.8 1728.7,300.8 1729.3,294.2 1729.8,303.7 1730.5,295.3 1731.0,302.2 1731.1,298.8 1731.8,293.8 1732.5,303.6 1733.0,294.8 1733.7,300.3 1734.3,293.4 1734.8,300.5 1735.4,294.9 1735.9,300.6 1736.7,295.1 1737.3,300.0 1737.9,294.4 1738.6,302.5 1739.1,293.4 1739.8,301.8 1740.3,294.4 1740.9,301.3 1741.6,295.7 1742.1,300.8 1742.1,307.5 1742.7,293.7 1743.1,300.9 1743.6,295.2 1744.2,300.5 1744.6,306.6 1744.9,293.9 1745.4,300.4 1745.7,304.7 1746.2,294.8 1746.8,300.6 1747.4,294.6 1747.9,302.9 1748.4,295.0 1749.2,300.6 1749.8,295.2 1750.5,301.3 1751.2,295.4 1751.9,304.1 1752.4,294.1 1752.9,301.1 1753.7,295.0 1754.1,301.9 1754.7,294.5 1755.2,303.7 1755.9,295.8 1756.5,304.5 1757.1,297.7 1757.6,305.0 1758.1,297.3 1758.7,303.2 1759.2,296.5 1759.8,302.2 1760.3,296.4 1760.7,311.1 1761.0,303.4 1761.7,294.8 1762.2,304.6 1762.7,294.8 1763.2,299.5 1763.9,294.7 1764.5,299.2 1764.7,302.3 1765.1,294.8 1765.7,298.8 1766.2,293.2 1766.8,299.6 1767.3,293.9 1768.0,300.9 1768.6,303.0 1768.8,294.3 1769.0,304.1 1769.3,299.1 1769.8,293.1 1770.4,301.8 1771.1,294.3 1771.6,299.3 1772.1,295.4 1772.6,304.1 1773.3,295.0 1773.9,300.2 1774.0,306.2 1774.4,295.6 1774.9,301.4 1775.4,294.2 1776.1,302.7 1776.8,295.9 1776.8,305.1 1777.5,303.8 1777.5,307.3 1778.1,294.0 1778.9,300.5 1779.4,295.0 1779.6,306.0 1780.1,303.9 1780.7,295.9 1781.1,301.4 1781.6,295.3 1782.3,302.6 1782.9,296.6 1783.4,304.1 1783.6,301.1 1784.1,295.5 1784.6,300.5 1785.2,295.5 1785.8,300.5 1786.2,304.0 1786.4,296.0 1786.9,302.7 1787.5,295.4 1788.2,300.7 1788.9,295.3 1789.6,302.0 1790.2,295.6 1790.8,302.4 1791.3,296.5 1791.9,304.5 1792.6,296.1 1793.2,302.9 1793.9,297.0 1794.4,302.4 1795.0,297.7 1795.5,305.6 1795.8,306.5 1796.0,296.4 1796.7,304.4 1797.4,297.3 1797.8,307.1 1798.0,305.7 1798.7,297.0 1799.3,304.6 1799.9,296.2 1800.6,302.7 1801.2,298.0 1801.8,303.4 1802.3,297.1 1802.8,304.4 1803.4,298.0 1803.9,302.8 1804.7,297.3 1805.1,305.7 1805.7,298.5 1806.1,304.7 1806.8,300.1 1807.3,308.7 1808.0,301.4 1808.5,313.6 1808.9,300.3 1809.5,312.1 1810.1,300.2 1810.8,310.8 1811.3,299.8 1812.0,308.6 1812.5,301.8 1813.1,310.3 1813.3,315.3 1813.8,298.9 1814.5,311.5 1815.1,299.5 1815.6,313.2 1816.1,299.7 1816.8,309.9 1817.3,300.3 1817.8,308.5 1818.4,298.3 1818.8,318.7 1819.0,313.7 1819.6,315.9 1819.6,300.6 1820.0,291.5 1820.0,320.5 1820.1,311.7 1820.6,299.3 1821.1,311.6 1821.6,301.5 1822.2,311.1 1822.9,302.1 1823.5,308.7 1824.2,302.3 1824.9,312.1 1825.4,300.6 1825.6,317.2 1825.8,310.5 1826.1,320.5 1826.3,320.9 1826.4,302.0 1827.0,310.6 1827.0,316.5 1827.3,315.8 1827.5,301.1 1828.1,312.9 1828.2,319.1 1828.2,316.1 1828.6,302.1 1829.1,310.4 1829.7,300.6 1830.1,313.7 1830.8,301.5 1831.4,312.7 1831.9,318.2 1832.0,301.6 1832.6,314.0 1833.1,303.3 1833.6,316.2 1834.1,303.7 1834.6,310.8 1835.1,303.7 1835.7,313.9 1836.4,303.1 1836.9,313.0 1837.5,303.1 1837.8,320.4 1838.1,312.6 1838.4,321.4 1838.6,302.9 1839.3,314.3 1840.0,303.1 1840.6,315.6 1841.1,318.5 1841.2,304.4 1841.8,313.5 1842.5,305.0 1843.0,311.6 1843.5,304.4 1844.0,314.2 1844.6,302.8 1845.2,309.8 1845.8,304.8 1846.4,313.1 1847.0,304.7 1847.7,310.9 1848.2,302.5 1848.6,316.8 1848.8,311.3 1849.4,304.6 1850.1,310.0 1850.8,303.5 1851.2,317.3 1851.4,313.6 1851.9,302.6 1852.6,313.2 1853.1,318.2 1853.1,303.6 1853.6,310.7 1854.3,304.1 1855.0,313.3 1855.3,320.2 1855.7,305.2 1856.3,314.8 1856.8,319.1 1857.0,304.7 1857.7,314.3 1858.2,305.2 1858.7,313.6 1859.5,306.3 1859.9,312.0 1860.5,306.5 1861.0,322.5 1861.0,314.1 1861.6,306.6 1862.2,311.4 1862.8,305.7 1863.3,314.7 1864.0,304.6 1864.5,318.1 1865.1,305.5 1865.8,312.4 1866.5,304.9 1867.0,318.5 1867.1,319.0 1867.8,306.0 1868.4,312.3 1869.1,306.2 1869.7,311.5 1870.2,306.8 1870.8,317.0 1870.9,314.8 1871.6,307.0 1872.0,317.0 1872.2,311.9 1872.7,307.3 1873.3,315.5 1873.9,305.6 1874.5,312.9 1875.1,307.6 1875.3,319.3 1875.6,315.0 1876.3,306.2 1876.8,314.7 1877.2,307.5 1878.0,314.1 1878.5,308.4 1878.9,317.2 1879.6,307.7 1880.2,317.7 1880.7,307.6 1881.4,316.4 1882.0,308.4 1882.7,314.0 1883.2,308.2 1883.7,317.7 1884.1,321.9 1884.4,308.6 1885.0,317.8 1885.0,321.0 1885.6,306.8 1886.1,316.8 1886.8,307.8 1887.3,315.4 1887.9,307.3 1888.6,315.8 1889.0,326.6 1889.1,307.4 1889.7,316.2 1890.3,308.3 1890.8,316.2 1891.5,308.9 1892.1,316.9 1892.6,308.1 1893.1,320.8 1893.1,324.7 1893.8,307.9 1894.6,319.3 1894.8,325.1 1895.1,307.4 1895.6,317.6 1896.1,308.1 1896.8,322.9 1896.9,328.0 1897.3,307.3 1897.4,328.1 1897.5,330.9 1898.0,320.0 1898.5,307.9 1899.0,321.5 1899.7,307.2 1900.2,326.7 1900.4,320.3 1900.8,335.1 1901.1,309.2 1901.5,332.2 1901.8,322.6 1902.5,308.7 1903.1,328.1 1903.6,308.0 1904.0,319.7 1904.6,307.8 1905.1,319.5 1905.6,310.1 1906.2,319.5 1906.9,308.6 1907.4,326.3 1908.0,310.9 1908.5,320.1 1909.2,311.5 1909.8,325.2 1910.4,309.3 1910.7,331.2 1911.1,319.0 1911.8,309.6 1912.5,322.3 1912.7,327.8 1913.0,308.6 1913.6,322.8 1914.3,312.7 1914.7,324.7 1915.3,309.5 1916.0,326.6 1916.8,310.3 1917.4,320.8 1918.1,311.0 1918.6,321.6 1918.6,332.9 1919.0,312.5 1919.6,325.9 1920.1,330.6 1920.3,311.5 1920.7,333.0 1921.0,321.8 1921.1,330.7 1921.6,310.3 1922.2,327.0 1922.9,310.7 1923.5,323.8 1924.0,311.7 1924.5,326.1 1925.1,310.9 1925.3,330.4 1925.5,325.2 1926.1,312.0 1926.2,331.9 1926.7,321.6 1927.3,314.4 1927.9,322.6 1928.6,312.4 1929.3,322.3 1930.0,314.7 1930.6,322.4 1931.1,312.8 1931.6,326.1 1932.2,311.3 1932.8,324.3 1933.4,312.5 1933.9,326.3 1934.3,338.8 1934.5,312.8 1935.2,324.5 1935.9,314.1 1936.3,335.3 1936.4,329.9 1936.7,332.9 1937.0,313.6 1937.7,323.8 1938.4,315.6 1938.9,325.1 1939.4,312.5 1940.0,331.2 1940.6,312.6 1941.2,327.8 1941.6,334.3 1941.8,315.7 1942.3,331.4 1943.0,311.7 1943.1,334.9 1943.6,331.5 1944.1,313.3 1944.8,330.5 1945.3,312.2 1946.0,325.4 1946.6,313.9 1947.1,325.8 1947.5,316.6 1948.1,324.6 1948.7,316.4 1949.2,325.5 1949.9,313.9 1950.4,330.3 1950.4,342.4 1950.9,316.5 1951.4,329.0 1952.1,314.4 1952.7,325.2 1953.4,312.6 1953.9,326.5 1954.4,313.5 1954.9,326.5 1955.4,313.4 1956.0,332.6 1956.5,315.8 1957.2,328.3 1957.7,315.0 1957.8,341.9 1957.9,336.3 1958.3,328.3 1959.0,317.7 1959.4,327.0 1960.0,318.0 1960.1,341.9 1960.5,329.4 1961.2,317.9 1961.5,341.7 1961.7,326.3 1961.7,335.5 1962.2,317.8 1962.7,338.5 1962.9,328.6 1963.5,315.9 1964.0,326.9 1964.5,342.4 1964.6,317.5 1965.1,338.6 1965.1,328.7 1965.8,314.8 1966.5,335.8 1967.0,338.2 1967.1,315.8 1967.8,326.2 1968.4,317.6 1969.0,327.8 1969.2,342.4 1969.7,318.5 1969.9,342.4 1970.3,328.4 1970.9,342.4 1971.0,318.6 1971.1,342.4 1971.4,338.8 1972.1,319.2 1972.8,328.8 1973.4,315.0 1974.2,334.0 1974.8,319.6 1975.4,328.2 1976.0,316.3 1976.6,342.4 1976.7,330.1 1977.3,316.1 1978.0,335.6 1978.8,315.2 1979.4,329.4 1980.0,316.6 1980.6,334.1 1981.0,319.6 1981.8,331.6 1982.3,317.2 1982.9,338.5 1983.0,329.7 1983.3,341.0 1983.7,315.7 1984.2,330.4 1984.8,318.7 1985.3,335.9 1985.8,319.6 1986.5,334.1 1987.1,319.8 1987.2,342.4 1987.3,342.4 1987.4,340.1 1987.4,339.6 1987.7,329.3 1988.2,320.9 1988.7,336.7 1989.3,317.4 1989.5,342.4 1990.1,333.0 1990.7,321.0 1990.9,339.5 1991.2,331.8 1991.8,342.4 1991.9,321.0 1992.3,340.1 1992.5,340.2 1992.8,342.4 1993.0,320.0 1993.7,333.5 1994.1,318.5 1994.9,334.4 1995.4,318.3 1996.1,330.2 1996.4,342.4 1996.6,342.2 1996.7,318.9 1997.2,332.1 1997.7,320.0 1998.4,331.1 1999.2,320.7" fill="none" stroke="#231f20" stroke-width="2.3" stroke-linejoin="miter" stroke-miterlimit="2.5"/>
<g font-family="Liberation Serif, serif" font-size="30" fill="#4b4b4d">
<text x="141.6" y="385.7" textLength="58.0" lengthAdjust="spacingAndGlyphs">4000</text>
<text x="316.8" y="385.7" textLength="58.0" lengthAdjust="spacingAndGlyphs">6000</text>
<text x="491.9" y="385.7" textLength="58.0" lengthAdjust="spacingAndGlyphs">8000</text>
<text x="657.7" y="385.7" textLength="72.5" lengthAdjust="spacingAndGlyphs">10000</text>
<text x="832.8" y="385.7" textLength="72.5" lengthAdjust="spacingAndGlyphs">12000</text>
<text x="1008.0" y="385.7" textLength="72.5" lengthAdjust="spacingAndGlyphs">14000</text>
<text x="1183.2" y="385.7" textLength="72.5" lengthAdjust="spacingAndGlyphs">16000</text>
<text x="1358.3" y="385.7" textLength="72.5" lengthAdjust="spacingAndGlyphs">18000</text>
<text x="1533.5" y="385.7" textLength="72.5" lengthAdjust="spacingAndGlyphs">20000</text>
<text x="1708.6" y="385.7" textLength="72.5" lengthAdjust="spacingAndGlyphs">22000</text>
<text x="1883.8" y="385.7" textLength="72.5" lengthAdjust="spacingAndGlyphs">24000</text>
<text x="72.0" y="352.6" textLength="14.5" lengthAdjust="spacingAndGlyphs">0</text>
<text x="55.0" y="275.2" textLength="29.0" lengthAdjust="spacingAndGlyphs">20</text>
<text x="55.0" y="197.8" textLength="29.0" lengthAdjust="spacingAndGlyphs">40</text>
<text x="55.0" y="120.5" textLength="29.0" lengthAdjust="spacingAndGlyphs">60</text>
<text x="55.0" y="43.1" textLength="29.0" lengthAdjust="spacingAndGlyphs">80</text>
</g>
<text x="946" y="422.7" font-family="Liberation Serif, serif" font-size="32.5" fill="#4b4b4d" textLength="216" lengthAdjust="spacing">Wavelength (&#197;)</text>
<g transform="translate(29.4,362) rotate(-90)" font-family="Liberation Serif, serif" fill="#4b4b4d">
<text x="0" y="0" font-size="34" font-style="italic">F</text>
<text x="15.5" y="5" font-size="24" font-style="italic" textLength="15.5" lengthAdjust="spacingAndGlyphs">&#955;</text>
<text x="43.5" y="-0.5" font-size="40">(</text>
<text x="55.5" y="0" font-size="32">10</text>
<text x="88" y="-12" font-size="23" textLength="39" lengthAdjust="spacing">&#8722;14</text>
<text x="129" y="0" font-size="33" font-style="italic" textLength="46.5" lengthAdjust="spacing">erg</text>
<text x="184.4" y="0" font-size="33" font-style="italic" textLength="15" lengthAdjust="spacingAndGlyphs">s</text>
<text x="203.5" y="-12" font-size="23" textLength="23" lengthAdjust="spacing">&#8722;1</text>
<text x="227.5" y="0" font-size="33" font-style="italic">c</text>
<text x="240.5" y="0" font-size="35" font-style="italic" textLength="32" lengthAdjust="spacingAndGlyphs">m</text>
<text x="277.8" y="-12" font-size="23" textLength="27" lengthAdjust="spacing">&#8722;2</text>
<text x="302" y="0" font-size="32">&#197;</text>
<text x="326.3" y="-12" font-size="23" textLength="23" lengthAdjust="spacing">&#8722;1</text>
<text x="353" y="-0.5" font-size="40">)</text>
</g>

</svg>
</body></html>
